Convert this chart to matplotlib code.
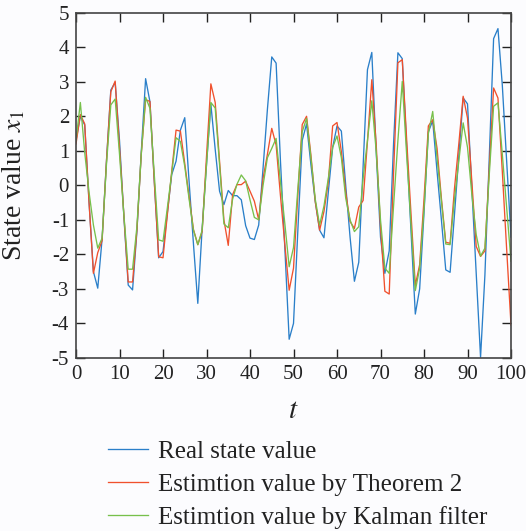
import matplotlib
matplotlib.use("Agg")
import matplotlib.pyplot as plt
import numpy as np

t = list(range(0, 101))

real_state = [
    1.3, 2.0, 1.75, -0.5, -2.5, -2.98, -1.55, 0.7, 2.76, 2.98,
    1.3, -0.9, -2.89, -3.03, -1.34, 0.96, 3.09, 2.42, 0.1, -2.1,
    -1.92, -0.8, 0.31, 0.7, 1.6, 1.96, 0.1, -1.7, -3.42, -1.24,
    0.6, 2.35, 1.04, -0.17, -0.56, -0.15, -0.3, -0.3, -0.42, -1.17,
    -1.53, -1.57, -1.15, 0.5, 2.2, 3.72, 3.54, 0.7, -1.8, -4.46,
    -4.0, -1.3, 1.3, 1.78, 0.6, -0.47, -1.3, -1.52, -0.2, 1.1,
    1.72, 1.57, 0.0, -1.5, -2.78, -2.23, 0.55, 3.35, 3.85, 1.0,
    -1.5, -2.55, -1.9, 1.2, 3.84, 3.67, 1.15, -1.3, -3.73, -3.0,
    -0.8, 1.55, 1.87, 0.4, -1.0, -2.45, -2.52, -0.85, 0.85, 2.53,
    2.36, -0.1, -2.55, -4.98, -2.6, 0.8, 4.25, 4.54, 2.9, 0.7,
    -1.5,
]

theorem2_est = [
    1.2, 2.05, 1.78, -0.5, -2.55, -1.95, -1.6, 0.7, 2.71, 3.02,
    1.1, -0.85, -2.8, -2.8, -1.3, 0.9, 2.48, 2.43, 0.1, -2.07,
    -2.1, -0.85, 0.4, 1.6, 1.57, 0.63, -0.33, -1.28, -1.72, -1.34,
    0.84, 2.94, 2.4, 0.7, -1.0, -1.74, -0.27, 0.02, 0.02, 0.12,
    -0.17, -0.46, -1.0, 0.2, 0.9, 1.65, 1.17, -0.3, -1.7, -3.04,
    -2.4, -0.27, 1.76, 2.0, 0.88, -0.47, -1.3, -0.76, 0.1, 1.72,
    1.82, 0.98, -0.2, -1.05, -1.25, -0.63, -0.44, 1.27, 3.06, 1.2,
    -1.2, -3.07, -3.15, 0.35, 3.55, 3.64, 1.35, -0.8, -2.9, -2.3,
    -0.4, 1.72, 1.9, 1.07, -0.38, -1.65, -1.68, -0.1, 1.2, 2.58,
    1.95, 0.1, -1.77, -2.06, -1.9, 0.5, 2.82, 2.53, 0.4, -1.85,
    -4.05,
]

kalman_est = [
    1.3, 2.4, 0.95, -0.2, -1.15, -1.82, -1.53, 0.6, 2.33, 2.5,
    0.9, -0.85, -2.43, -2.43, -1.2, 0.9, 2.55, 2.23, 0.3, -1.58,
    -1.62, -0.65, 0.35, 1.38, 1.27, 0.55, -0.4, -1.3, -1.72, -1.3,
    0.6, 2.4, 2.24, 0.6, -1.12, -1.23, -0.4, 0.03, 0.3, 0.13,
    -0.42, -0.93, -1.0, 0.0, 0.8, 1.07, 1.36, 0.1, -1.1, -2.36,
    -1.8, -0.1, 1.55, 1.94, 0.8, -0.4, -1.15, -0.6, 0.2, 1.1,
    1.43, 0.8, -0.37, -1.0, -1.34, -1.2, 0.2, 1.3, 2.45, 1.0,
    -1.0, -2.4, -2.55, -0.6, 1.3, 3.01, 0.9, -1.1, -3.05, -2.4,
    -0.7, 1.5, 2.14, 0.8, -0.45, -1.7, -1.72, -0.4, 0.7, 1.81,
    1.1, -0.27, -1.43, -2.05, -1.82, 0.3, 2.29, 2.39, 0.9, -0.65,
    -2.2,
]

labels = [
    "Real state value",
    "Estimtion value by Theorem 2",
    "Estimtion value by Kalman filter",
]
colors = ["#2a7fc9", "#f0502d", "#77c04b"]

x_ticks = list(range(0, 101, 10))
y_ticks = list(range(-5, 6, 1))

plt.rcParams["font.family"] = ["Liberation Serif", "DejaVu Serif"]
plt.rcParams["mathtext.fontset"] = "stix"
plt.rcParams["axes.unicode_minus"] = False

bg = "#fcfcfe"
fig = plt.figure(figsize=(5.26, 5.31), dpi=100, facecolor=bg)
ax = fig.add_axes([0.1445, 0.326, 0.827, 0.650])
ax.set_facecolor(bg)

for series, lab, col in zip([real_state, theorem2_est, kalman_est], labels, colors):
    ax.plot(t, series, color=col, lw=0.95, label=lab)

ax.set_xlim(0, 100)
ax.set_ylim(-5, 5)
ax.set_xticks(x_ticks)
ax.set_yticks(y_ticks)
ax.tick_params(direction="in", top=True, right=True, length=6.5, width=1.0,
               labelsize=15, colors="#222222", pad=5)
for sp in ax.spines.values():
    sp.set_color("#444444")
    sp.set_linewidth(1.2)

ax.set_xlabel("$t$", fontsize=21, labelpad=10, color="#222222")
ax.set_ylabel("State value $x_1$", fontsize=20, color="#222222")
ax.yaxis.set_label_coords(-0.112, 0.5)

leg = ax.legend(loc="upper left", bbox_to_anchor=(0.205, 0.171),
                bbox_transform=fig.transFigure, frameon=False,
                fontsize=18, handlelength=1.6, handletextpad=0.4,
                labelspacing=0.42, borderpad=0, borderaxespad=0)
for txt in leg.get_texts():
    txt.set_color("#222222")

fig.savefig("out.png", dpi=100, facecolor=bg)
